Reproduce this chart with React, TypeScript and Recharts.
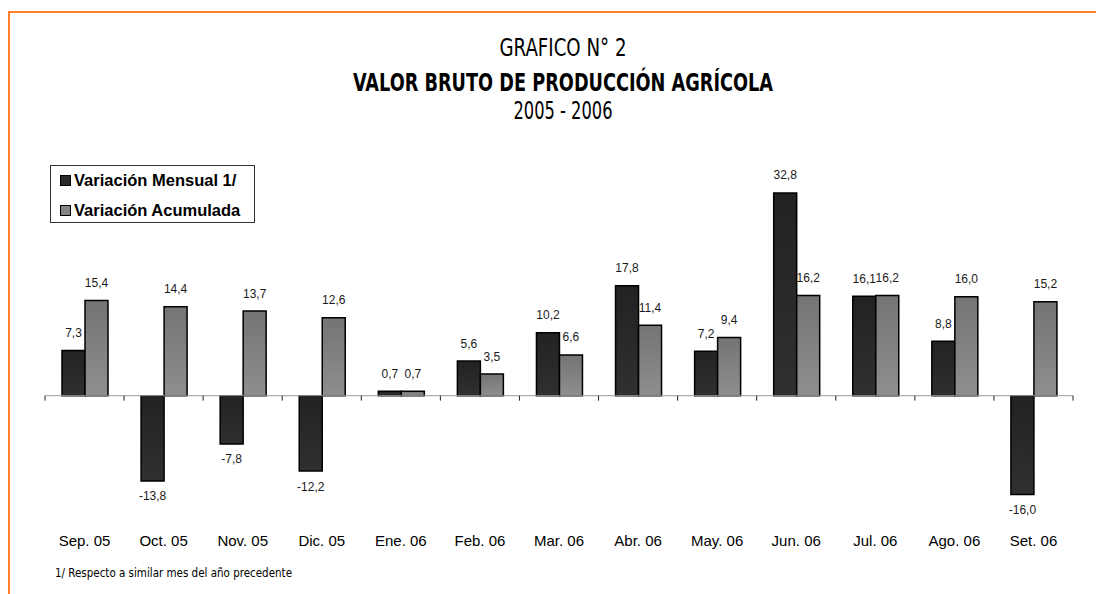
import React from 'react';
import { BarChart, Bar, XAxis, YAxis, ReferenceLine, LabelList, Legend } from 'recharts';

const categories = ['Sep. 05', 'Oct. 05', 'Nov. 05', 'Dic. 05', 'Ene. 06', 'Feb. 06', 'Mar. 06', 'Abr. 06', 'May. 06', 'Jun. 06', 'Jul. 06', 'Ago. 06', 'Set. 06'];
const mensual = [7.3, -13.8, -7.8, -12.2, 0.7, 5.6, 10.2, 17.8, 7.2, 32.8, 16.1, 8.8, -16.0];
const acumulada = [15.4, 14.4, 13.7, 12.6, 0.7, 3.5, 6.6, 11.4, 9.4, 16.2, 16.2, 16.0, 15.2];
const seriesNames = ['Variación Mensual 1/', 'Variación Acumulada'];
const titleLines = ['GRAFICO N° 2', 'VALOR BRUTO DE PRODUCCIÓN AGRÍCOLA', '2005 - 2006'];
const footnote = '1/ Respecto a similar mes del año precedente';
const yDomain = [-20, 35];
const tickLen = 0.8;

const data = categories.map((c, i) => ({ cat: c, mensual: mensual[i], acumulada: acumulada[i] }));

const ARIAL = '"Liberation Sans", Arial, sans-serif';
const NARROW = '"Liberation Sans Narrow", "Arial Narrow", "DejaVu Sans Condensed", "Liberation Sans", sans-serif';

const renderLabel = (props: any) => {
  const vb = props.viewBox && props.viewBox.width !== undefined ? props.viewBox : props;
  const { x, y, width, height } = vb;
  const value = Number(props.value);
  const top = Math.min(y, y + height);
  const bottom = Math.max(y, y + height);
  const cx = x + width / 2;
  const text = value.toFixed(1).replace('.', ',');
  const ty = value >= 0 ? top - 13.5 : bottom + 19.5;
  return (
    <text x={cx} y={ty} textAnchor="middle" fontSize={12} fontFamily={ARIAL} fill="#1a1a1a">
      {text}
    </text>
  );
};

const LegendBox = () => (
  <div
    style={{
      width: 203,
      height: 56,
      border: '1px solid #333',
      background: '#fff',
      fontFamily: ARIAL,
      fontWeight: 'bold',
      fontSize: 16.5,
      color: '#000',
      position: 'relative',
    }}
  >
    {seriesNames.map((n, i) => (
      <div key={n} style={{ position: 'absolute', left: 9, top: 5 + i * 30, display: 'flex', alignItems: 'center', whiteSpace: 'nowrap' }}>
        <span
          style={{
            display: 'inline-block',
            width: 9,
            height: 9,
            border: '1px solid #000',
            background: i === 0 ? '#2a2a2a' : '#858585',
            marginRight: 3,
          }}
        />
        <span style={{ lineHeight: '19px' }}>{n}</span>
      </div>
    ))}
  </div>
);

export default function App() {
  return (
    <div style={{ position: 'relative', width: 1096, height: 586, overflow: 'hidden', background: '#fff' }}>
      <div
        style={{
          position: 'absolute',
          left: 0,
          top: 3,
          right: 0,
          bottom: 0,
          borderTop: '2px solid #ff7f27',
          borderLeft: '2px solid #ff7f27',
        }}
      />
      <div style={{ position: 'absolute', left: 0, top: 0 }}>
        <BarChart
          width={1096}
          height={586}
          data={data}
          margin={{ top: 171.4, right: 31, bottom: 44.7, left: 37 }}
          barCategoryGap={17}
          barGap={0}
        >
          <defs>
            <linearGradient id="gDark" x1="0" y1="0" x2="0" y2="1">
              <stop offset="0%" stopColor="#222222" />
              <stop offset="100%" stopColor="#303030" />
            </linearGradient>
            <linearGradient id="gGray" x1="0" y1="0" x2="0" y2="1">
              <stop offset="0%" stopColor="#747474" />
              <stop offset="100%" stopColor="#8e8e8e" />
            </linearGradient>
          </defs>
          <XAxis
            dataKey="cat"
            axisLine={false}
            tickLine={false}
            tickSize={0}
            tickMargin={16.4}
            height={30}
            interval={0}
            tick={{ fontSize: 15, fontFamily: ARIAL, fill: '#000' }}
          />
          <YAxis hide domain={yDomain} allowDataOverflow />
          <ReferenceLine y={0} stroke="#999999" strokeWidth={1} />
          {categories.map((c) => (
            <ReferenceLine
              key={'t' + c}
              segment={[{ x: c, y: 0 }, { x: c, y: -tickLen }]}
              position="start"
              stroke="#222"
              strokeWidth={1}
              ifOverflow="visible"
            />
          ))}
          <ReferenceLine
            segment={[{ x: categories[categories.length - 1], y: 0 }, { x: categories[categories.length - 1], y: -tickLen }]}
            position="end"
            stroke="#222"
            strokeWidth={1}
            ifOverflow="visible"
          />
          <Legend
            layout="vertical"
            align="center"
            verticalAlign="middle"
            wrapperStyle={{ left: 42, top: 157, width: 'auto', height: 'auto' }}
            content={() => <LegendBox />}
          />
          <Bar dataKey="mensual" name={seriesNames[0]} fill="url(#gDark)" stroke="#000" strokeWidth={1.5} isAnimationActive={false}>
            <LabelList dataKey="mensual" content={renderLabel} />
          </Bar>
          <Bar dataKey="acumulada" name={seriesNames[1]} fill="url(#gGray)" stroke="#000" strokeWidth={1.5} isAnimationActive={false}>
            <LabelList dataKey="acumulada" content={renderLabel} />
          </Bar>
        </BarChart>
      </div>
      <svg width={1096} height={586} style={{ position: 'absolute', left: 0, top: 0, pointerEvents: 'none' }}>
        <text x={555} y={47.5} textAnchor="middle" fontFamily={NARROW} fontSize={25} fill="#000" textLength={127} lengthAdjust="spacingAndGlyphs">
          {titleLines[0]}
        </text>
        <text x={555} y={82.7} textAnchor="middle" fontFamily={NARROW} fontWeight="bold" fontSize={25} fill="#000" textLength={420} lengthAdjust="spacingAndGlyphs">
          {titleLines[1]}
        </text>
        <text x={555} y={111} textAnchor="middle" fontFamily={NARROW} fontSize={25} fill="#000" textLength={99} lengthAdjust="spacingAndGlyphs">
          {titleLines[2]}
        </text>
        <text x={47} y={569.3} fontFamily={NARROW} fontSize={13} fill="#000" textLength={237} lengthAdjust="spacingAndGlyphs">
          {footnote}
        </text>
      </svg>
    </div>
  );
}
